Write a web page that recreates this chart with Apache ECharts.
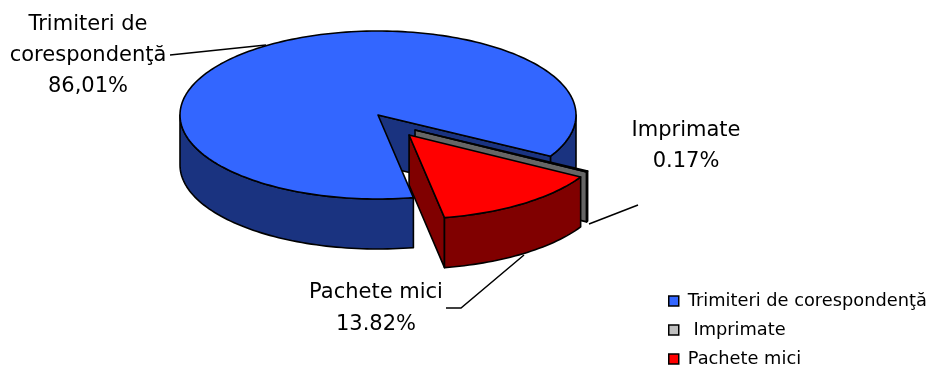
<!DOCTYPE html>
<html>
<head>
<meta charset="utf-8">
<style>html,body{margin:0;padding:0;background:#fff}#c{width:933px;height:369px}</style>
<script src="https://cdn.jsdelivr.net/npm/echarts@6/dist/echarts.min.js"></script>
</head>
<body>
<div id="c"></div>
<script>
const categories = ['Trimiteri de corespondenţă', 'Imprimate', 'Pachete mici'];
const values = [86.01, 0.17, 13.82];
const calloutLabels = [
  ['Trimiteri de', 'corespondenţă', '86,01%'],
  ['Imprimate', '0.17%'],
  ['Pachete mici', '13.82%']
];
const topColors = ['#3366ff', '#c0c0c0', '#ff0000'];
const sideColors = ['#1a3380', '#666666', '#800000'];

const FONT_FAMILY = '"DejaVu Sans", sans-serif';
const CX = 378, CY = 115, RX = 198, RY = 84, DEPTH = 50, START = 79.7;
// exploded offsets in unit-circle terms
const OFFSETS = [[0, 0], [0.187, 0.178], [0.157, 0.238]];
const LABEL_POS = [[88, [25, 56, 87]], [686, [131, 162]], [376, [293, 325]]];
const LEADERS = [
  [[170, 55], [266, 45]],
  [[589, 224], [638, 205]],
  [[524, 255], [461, 308], [446, 308]]
];

const total = values.reduce((a, b) => a + b, 0);
function sliceAngles(i) {
  let a = START;
  for (let k = 0; k < i; k++) a += values[k] / total * 360;
  return [a, a + values[i] / total * 360];
}
function arcPts(a0, a1, cx, cy) {
  const n = Math.max(2, Math.ceil(Math.abs(a1 - a0) / 1.5));
  const out = [];
  for (let j = 0; j <= n; j++) {
    const t = (a0 + (a1 - a0) * j / n) * Math.PI / 180;
    out.push([cx + RX * Math.cos(t), cy + RY * Math.sin(t)]);
  }
  return out;
}
function poly(points, fill) {
  return {
    type: 'polygon', shape: { points },
    style: { fill, stroke: '#000', lineWidth: 1.6, lineJoin: 'round' }, silent: true
  };
}
// visible (front) outer wall ranges: angle mod 360 in [0,180]
function frontRanges(a0, a1) {
  const res = [];
  for (const [lo, hi] of [[0, 180], [360, 540]]) {
    const s = Math.max(a0, lo), e = Math.min(a1, hi);
    if (e > s) res.push([s, e]);
  }
  return res;
}
function renderSlice(params) {
  const i = params.seriesIndex;
  const [a0, a1] = sliceAngles(i);
  const cx = CX + OFFSETS[i][0] * RX, cy = CY + OFFSETS[i][1] * RY;
  const apex = [cx, cy];
  const down = p => [p[0], p[1] + DEPTH];
  const children = [];
  // radial wall facing the viewer
  const endPt = arcPts(a1, a1, cx, cy)[0];
  children.push(poly([apex, endPt, down(endPt), down(apex)], sideColors[i]));
  frontRanges(a0, a1).forEach(([s, e]) => {
    const top = arcPts(s, e, cx, cy);
    children.push(poly(top.concat(top.slice().reverse().map(down)), sideColors[i]));
  });
  children.push(poly([apex].concat(arcPts(a0, a1, cx, cy)), topColors[i]));
  return { type: 'group', children };
}
function renderCallouts(params) {
  const i = params.dataIndex;
  const children = [{
    type: 'polyline', shape: { points: LEADERS[i] },
    style: { fill: 'none', stroke: '#000', lineWidth: 1.5 }, silent: true
  }];
  calloutLabels[i].forEach((txt, k) => {
    children.push({
      type: 'text', silent: true,
      style: {
        x: LABEL_POS[i][0], y: LABEL_POS[i][1][k], text: txt,
        fill: '#000', font: '21px ' + FONT_FAMILY,
        textAlign: 'center', textVerticalAlign: 'middle'
      }
    });
  });
  return { type: 'group', children };
}

const series = categories.map((name, i) => ({
  type: 'custom', name, coordinateSystem: 'none',
  data: [[values[i]]], renderItem: renderSlice,
  itemStyle: { color: topColors[i] }, silent: true, animation: false, z: 2
}));
series.push({
  type: 'custom', name: '_callouts', coordinateSystem: 'none',
  data: values.map(v => [v]), renderItem: renderCallouts,
  silent: true, animation: false, z: 3
});

const chart = echarts.init(document.getElementById('c'), null, { renderer: 'canvas' });
chart.setOption({
  animation: false,
  backgroundColor: '#fff',
  legend: {
    orient: 'vertical', left: 668, top: 292, height: 120, width: 265, padding: 0,
    itemWidth: 10, itemHeight: 10, itemGap: 11,
    icon: 'rect',
    selectedMode: false,
    textStyle: { fontFamily: FONT_FAMILY, fontSize: 17.8, color: '#000', padding: [0, 0, 0, 4] },
    data: categories.map((name, i) => ({
      name, icon: 'rect',
      itemStyle: { color: topColors[i], borderColor: '#000', borderWidth: 1.5 }
    })),
    formatter: n => (n === 'Imprimate' ? ' ' + n : n)
  },
  series
});
</script>
</body>
</html>
